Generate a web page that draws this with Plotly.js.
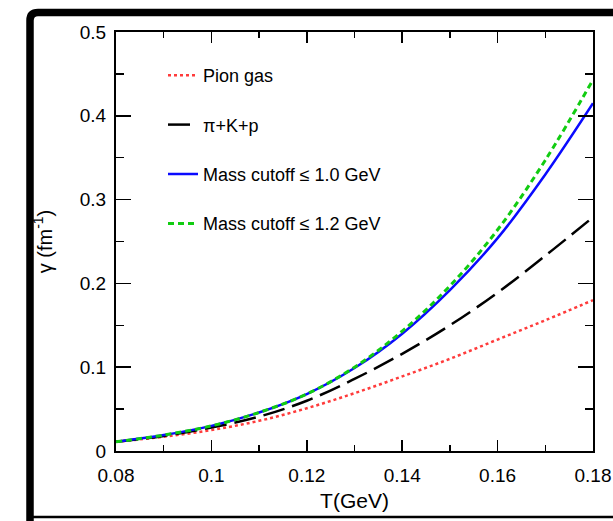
<!DOCTYPE html>
<html>
<head>
<meta charset="utf-8">
<script src="https://cdn.plot.ly/plotly-3.0.1.min.js"></script>
<style>
  html, body { margin: 0; padding: 0; background: #fff; }
  #chart { width: 613px; height: 521px; }
</style>
</head>
<body>
<div id="chart"></div>
<script>
// Temperature grid (GeV)
const T = [0.08, 0.09, 0.10, 0.11, 0.12, 0.13, 0.14, 0.15, 0.16, 0.17, 0.18];

// gamma (fm^-1)
const pionGas   = [0.011, 0.017, 0.025, 0.036, 0.051, 0.069, 0.089, 0.110, 0.133, 0.156, 0.180];
const piKp      = [0.011, 0.018, 0.028, 0.041, 0.060, 0.086, 0.116, 0.150, 0.189, 0.233, 0.279];
const cutoff10  = [0.011, 0.019, 0.030, 0.046, 0.068, 0.099, 0.140, 0.192, 0.254, 0.330, 0.415];
const cutoff12  = [0.011, 0.019, 0.030, 0.046, 0.068, 0.100, 0.143, 0.197, 0.264, 0.347, 0.443];

const seriesNames = ["Pion gas", "\u03C0+K+p", "Mass cutoff \u2264 1.0 GeV", "Mass cutoff \u2264 1.2 GeV"];

const FONT = "Liberation Sans, Arial, Helvetica, sans-serif";

const traces = [
  {x: T, y: pionGas,  name: seriesNames[0], legendgroup: "a",
   line: {color: "#ff3b3b", width: 2.5, dash: "3px,3px", shape: "spline"}},
  {x: T, y: piKp,     name: seriesNames[1], legendgroup: "b",
   line: {color: "#000000", width: 2.5, dash: "22px,8px", shape: "spline"}},
  {x: T, y: cutoff10, name: seriesNames[2], legendgroup: "c",
   line: {color: "#0a0aff", width: 2.5, shape: "spline"}},
  {x: T, y: cutoff12, name: seriesNames[3], legendgroup: "d",
   line: {color: "#11cc11", width: 3, dash: "6px,4px", shape: "spline"}}
].map(t => Object.assign({type: "scatter", mode: "lines"}, t));

// frame geometry in paper units (plot area: x 116..593, y 32..451)
const W = 477, H = 419, L = 116, B = 451;
const px = v => (v - L) / W;
const py = v => (B - v) / H;
const fx0 = px(30), fy0 = py(12.5), fyb = py(517), fx1 = px(640);
const rx = 8 / W, ry = 8 / H;

const layout = {
  width: 613, height: 521,
  margin: {l: 116, r: 20, t: 32, b: 70, pad: 0},
  paper_bgcolor: "#ffffff",
  plot_bgcolor: "#ffffff",
  showlegend: true,
  legend: {
    x: px(163), y: py(57), xanchor: "left", yanchor: "top",
    bgcolor: "rgba(0,0,0,0)", borderwidth: 0,
    font: {family: FONT, size: 18, color: "#000"},
    tracegroupgap: 23, traceorder: "grouped"
  },
  xaxis: {
    range: [0.08, 0.18], tick0: 0.08, dtick: 0.02,
    ticks: "inside", ticklen: 11, tickwidth: 1.5, tickcolor: "#000",
    minor: {dtick: 0.01, ticks: "inside", ticklen: 6, tickwidth: 1.5, tickcolor: "#000"},
    showline: true, linewidth: 2, linecolor: "#000", mirror: "ticks",
    showgrid: false, zeroline: false,
    ticklabelstandoff: 6,
    tickfont: {family: FONT, size: 19, color: "#000"},
    title: {text: "T(GeV)", font: {family: FONT, size: 21, color: "#000"}, standoff: 9}
  },
  yaxis: {
    range: [0, 0.5], tick0: 0, dtick: 0.1,
    ticks: "inside", ticklen: 15, tickwidth: 1.5, tickcolor: "#000",
    minor: {dtick: 0.05, ticks: "inside", ticklen: 8, tickwidth: 1.5, tickcolor: "#000"},
    showline: true, linewidth: 2, linecolor: "#000", mirror: "ticks",
    showgrid: false, zeroline: false,
    ticklabelstandoff: 4,
    tickfont: {family: FONT, size: 19, color: "#000"},
    title: {text: "\u03B3 (fm<sup>-1</sup>)", font: {family: FONT, size: 20, color: "#000"}, standoff: 22}
  },
  shapes: [
    {type: "path", xref: "paper", yref: "paper", layer: "above",
     path: `M ${fx1},${fy0} L ${fx0 + rx},${fy0} Q ${fx0},${fy0} ${fx0},${fy0 - ry} L ${fx0},${py(521)}`,
     line: {color: "#000", width: 7.5}},
    {type: "line", xref: "paper", yref: "paper", layer: "above",
     x0: fx0, x1: fx1, y0: fyb, y1: fyb, line: {color: "#000", width: 2.5}}
  ]
};

Plotly.newPlot("chart", traces, layout, {displayModeBar: false, staticPlot: true});
</script>
</body>
</html>
